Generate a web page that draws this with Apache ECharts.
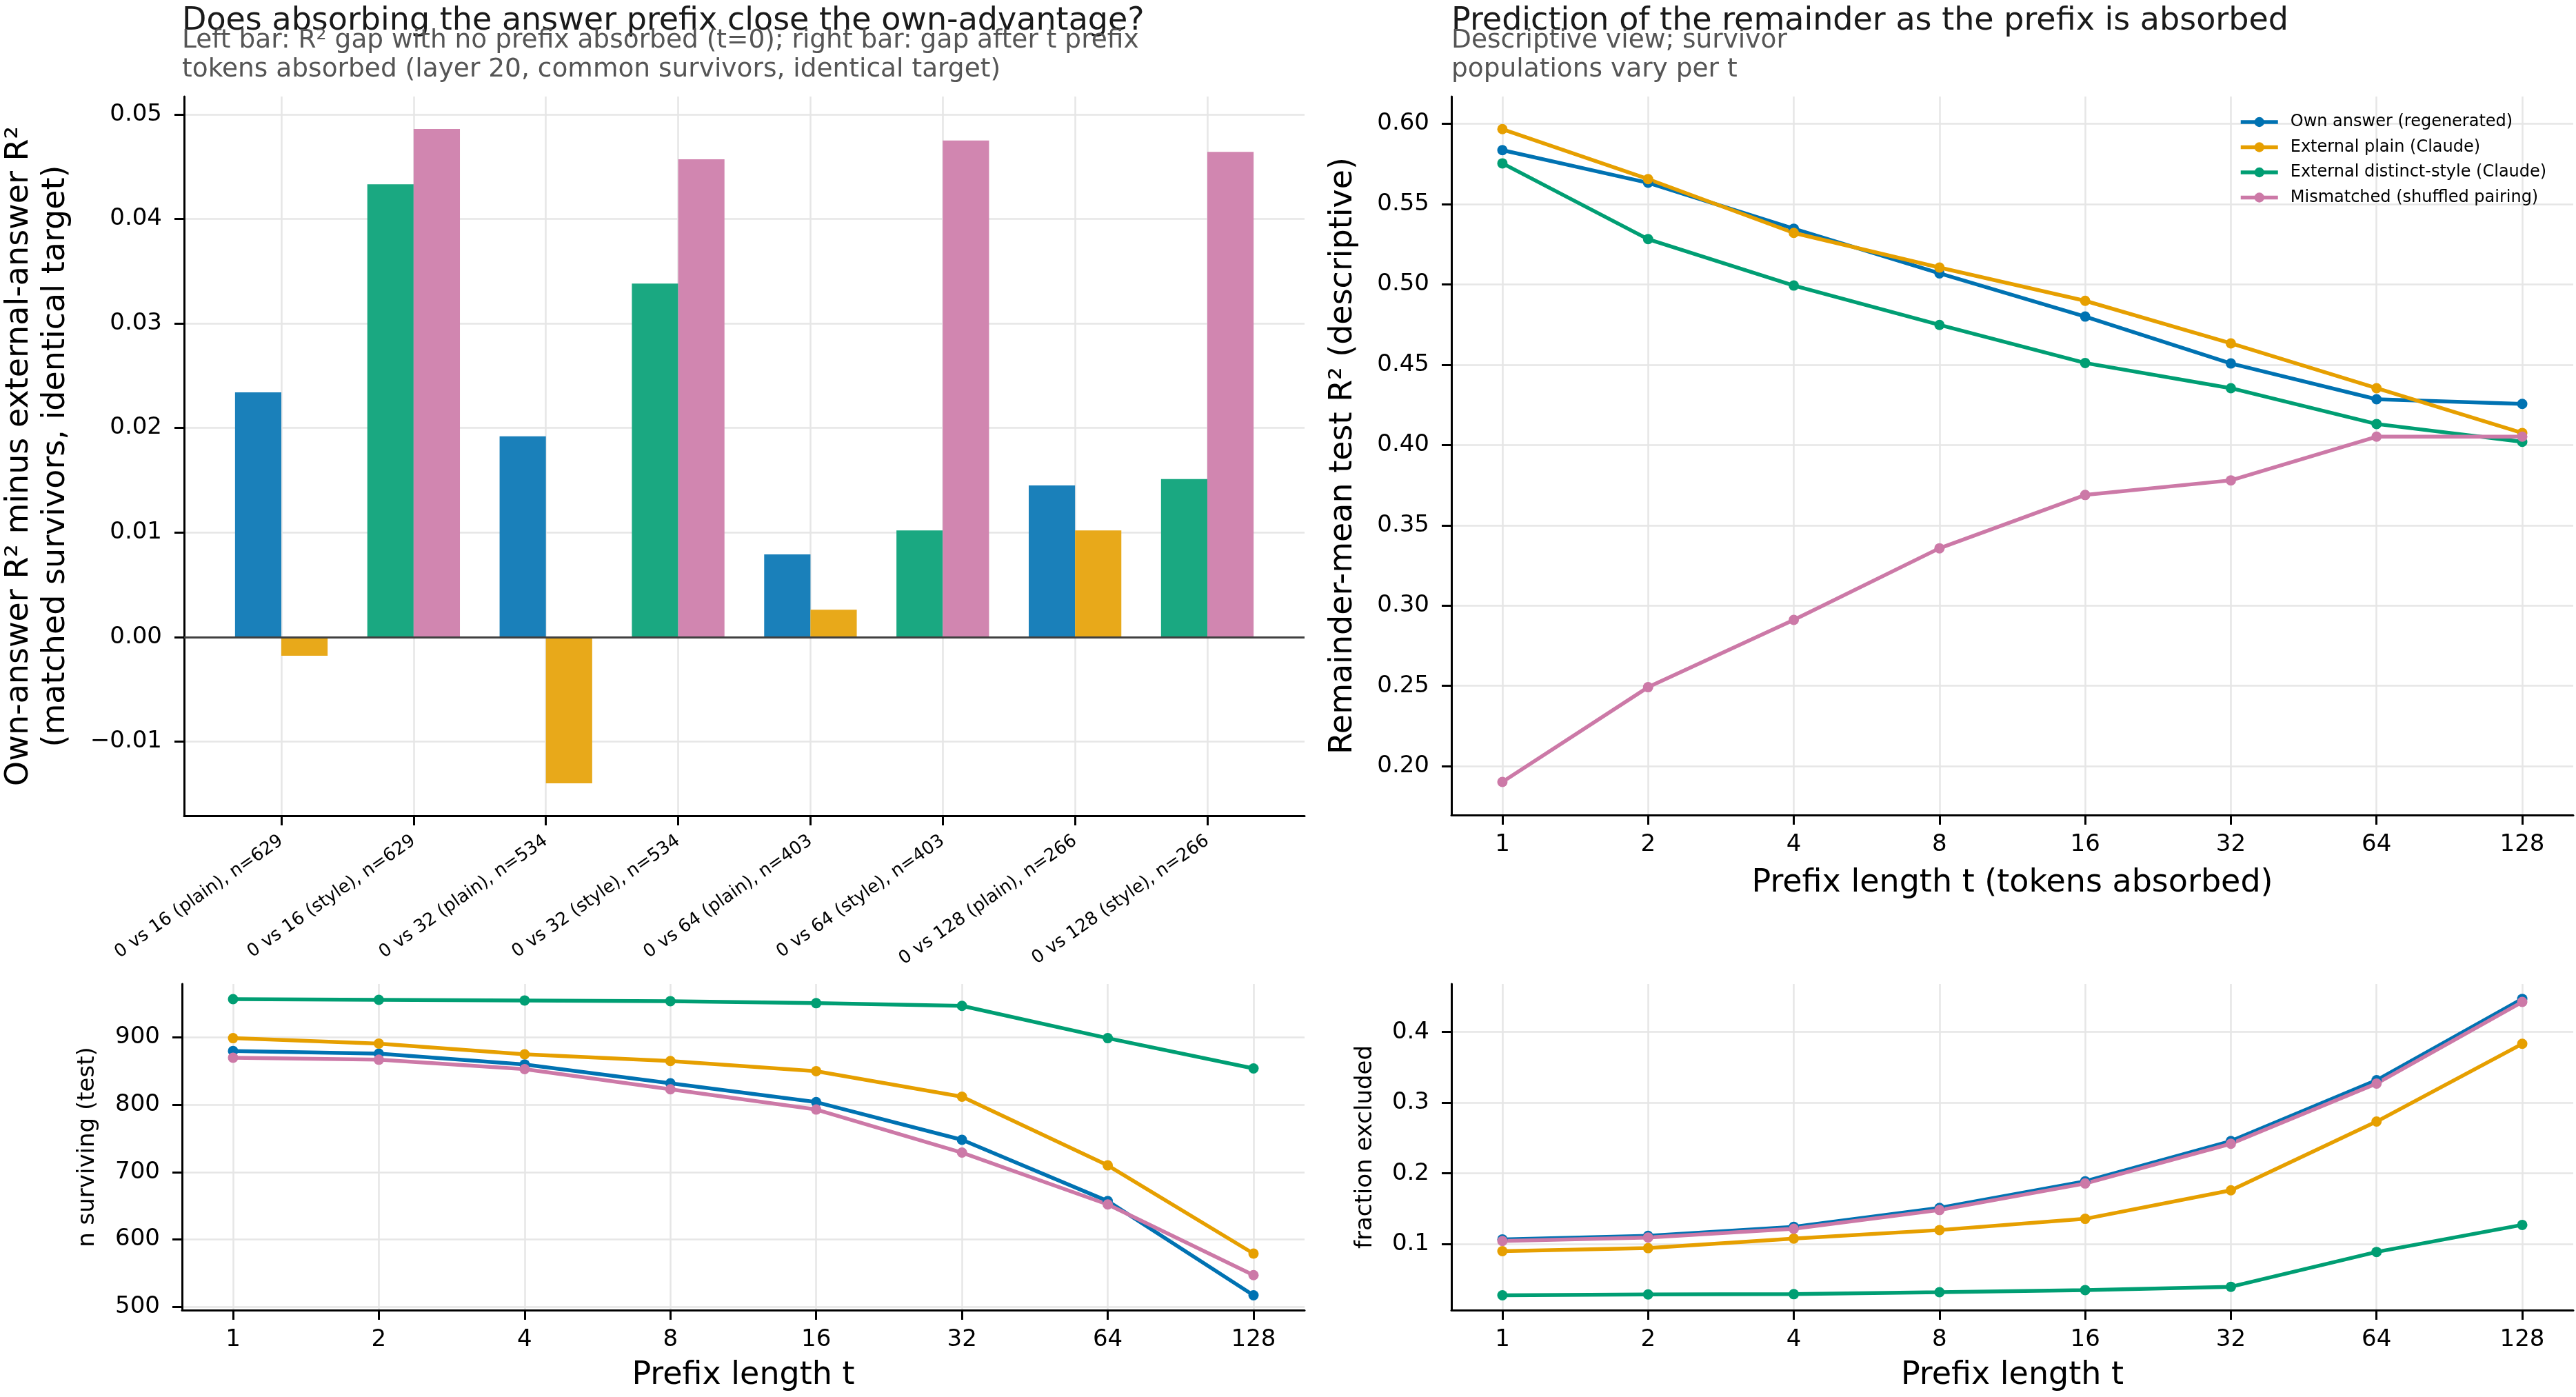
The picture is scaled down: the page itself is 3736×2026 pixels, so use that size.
<!DOCTYPE html>
<html><head><meta charset="utf-8">
<script src="https://cdn.jsdelivr.net/npm/echarts@6/dist/echarts.min.js"></script>
<style>html,body{margin:0;padding:0;background:#fff}#c{width:3736px;height:2026px}</style>
</head><body><div id="c"></div>
<script>
// ---------- data ----------
const barCategories = ['0 vs 16 (plain), n=629', '0 vs 16 (style), n=629', '0 vs 32 (plain), n=534', '0 vs 32 (style), n=534',
  '0 vs 64 (plain), n=403', '0 vs 64 (style), n=403', '0 vs 128 (plain), n=266', '0 vs 128 (style), n=266'];
const barKinds = ['plain', 'style', 'plain', 'style', 'plain', 'style', 'plain', 'style'];
const gapNoPrefix = [0.0234, 0.0433, 0.0192, 0.0338, 0.0079, 0.0102, 0.0145, 0.0151];
const gapAfterPrefix = [-0.0018, 0.0486, -0.0140, 0.0457, 0.0026, 0.0475, 0.0102, 0.0464];
const barYTicks = [-0.01, 0, 0.01, 0.02, 0.03, 0.04, 0.05];

const prefixLengths = [1, 2, 4, 8, 16, 32, 64, 128];
const seriesNames = ['Own answer (regenerated)', 'External plain (Claude)', 'External distinct-style (Claude)', 'Mismatched (shuffled pairing)'];

const r2Own = [0.5836, 0.5633, 0.5347, 0.5069, 0.4800, 0.4508, 0.4285, 0.4256];
const r2Plain = [0.5967, 0.5656, 0.5321, 0.5105, 0.4898, 0.4633, 0.4354, 0.4075];
const r2Style = [0.5754, 0.5282, 0.4993, 0.4748, 0.4511, 0.4354, 0.4131, 0.4020];
const r2Mismatch = [0.1902, 0.2492, 0.2911, 0.3357, 0.3689, 0.3780, 0.4052, 0.4052];
const r2YTicks = [0.20, 0.25, 0.30, 0.35, 0.40, 0.45, 0.50, 0.55, 0.60];

const nOwn = [880, 876, 860, 832, 804, 748, 657, 517];
const nPlain = [899, 891, 875, 865, 850, 812, 710, 579];
const nStyle = [957, 956, 955, 954, 951, 947, 899, 854];
const nMismatch = [870, 867, 853, 823, 793, 729, 652, 547];
const nYTicks = [500, 600, 700, 800, 900];

const fracOwn = [0.1066, 0.1116, 0.1244, 0.1512, 0.1888, 0.2457, 0.3318, 0.4469];
const fracPlain = [0.0899, 0.0942, 0.1078, 0.1198, 0.1357, 0.1760, 0.2733, 0.3833];
const fracStyle = [0.0275, 0.0287, 0.0291, 0.0318, 0.0349, 0.0395, 0.0888, 0.1271];
const fracMismatch = [0.1043, 0.1093, 0.1217, 0.1481, 0.1857, 0.2419, 0.3271, 0.4426];
const fracYTicks = [0.1, 0.2, 0.3, 0.4];

const titleLeft = 'Does absorbing the answer prefix close the own-advantage?';
const subtitleLeft = 'Left bar: R\u00b2 gap with no prefix absorbed (t=0); right bar: gap after t prefix\ntokens absorbed (layer 20, common survivors, identical target)';
const titleRight = 'Prediction of the remainder as the prefix is absorbed';
const subtitleRight = 'Descriptive view; survivor\npopulations vary per t';

// ---------- styles ----------
const FONT = 'DejaVu Sans';
const LINE_COLORS = ['#0072B2', '#E69F00', '#009E73', '#CC79A7'];
const BAR_COLORS = { plain: ['#1a80ba', '#e8a91a'], style: ['#1aa881', '#d186b0'] };
const BAR_W = 0.35;
const GRID_COLOR = '#e6e6e6';

const chart = echarts.init(document.getElementById('c'), null, { renderer: 'canvas' });

function xAxisBase(grid, min, max, ticks, fmt, extra) {
  return Object.assign({
    type: 'value', gridIndex: grid, min: min, max: max,
    axisLine: { show: true, onZero: false, lineStyle: { color: '#000', width: 3 } },
    axisTick: { show: true, length: 14, customValues: ticks, lineStyle: { color: '#000', width: 3 } },
    axisLabel: { show: true, customValues: ticks, formatter: fmt, fontFamily: FONT, fontSize: 34, color: '#000', margin: 26 },
    splitLine: { show: true, lineStyle: { color: GRID_COLOR, width: 2.5 } }
  }, extra || {});
}
function yAxisBase(grid, min, max, ticks, fmt, name, nameGap, nameSize, lineHeight) {
  return {
    type: 'value', gridIndex: grid, min: min, max: max,
    name: name, nameLocation: 'middle', nameGap: nameGap, nameRotate: 90,
    nameTextStyle: { fontFamily: FONT, fontSize: nameSize, color: '#000', lineHeight: lineHeight, align: 'center' },
    axisLine: { show: true, onZero: false, lineStyle: { color: '#000', width: 3 } },
    axisTick: { show: true, length: 14, customValues: ticks, lineStyle: { color: '#000', width: 3 } },
    axisLabel: { show: true, customValues: ticks, formatter: fmt, fontFamily: FONT, fontSize: 34, color: '#000', margin: 32 },
    splitLine: { show: true, lineStyle: { color: GRID_COLOR, width: 2.5 } }
  };
}
const idx = prefixLengths.map((_, i) => i);
const tFmt = v => String(prefixLengths[Math.round(v)]);
const catFmt = v => barCategories[Math.round(v)];
const minusFmt = d => v => v.toFixed(d).replace('-', '\u2212');

function lineSeries(names, arrays, xi, yi) {
  return arrays.map((arr, k) => ({
    type: 'line', name: names[k], xAxisIndex: xi, yAxisIndex: yi,
    data: arr.map((v, i) => [i, v]),
    symbol: 'circle', symbolSize: 15,
    lineStyle: { width: 5.5, color: LINE_COLORS[k] },
    itemStyle: { color: LINE_COLORS[k] },
    emphasis: { disabled: true }, z: 3
  }));
}

function barRender(side) {
  return function (params, api) {
    const i = api.value(0), v = api.value(1);
    const x0 = side === 0 ? i - BAR_W : i;
    const p0 = api.coord([x0, v]);
    const p1 = api.coord([x0 + BAR_W, 0]);
    const kind = barKinds[i];
    return {
      type: 'rect',
      shape: { x: p0[0], y: Math.min(p0[1], p1[1]), width: p1[0] - p0[0], height: Math.abs(p1[1] - p0[1]) },
      style: { fill: BAR_COLORS[kind][side] }
    };
  };
}

function textEl(text, x, y, size, color, lh) {
  return { type: 'text', x: x, y: y, silent: true, z: 10,
    style: { text: text, fontFamily: FONT, fontSize: size, fill: color, lineHeight: lh || size, verticalAlign: 'top', align: 'left' } };
}

const option = {
  animation: false,
  backgroundColor: '#fff',
  graphic: [
    textEl(titleLeft, 264, 6, 46, '#1a1a1a', 50),
    textEl(subtitleLeft, 264, 38, 37.5, '#555555', 42),
    textEl(titleRight, 2105, 6, 46, '#1a1a1a', 50),
    textEl(subtitleRight, 2105, 38, 37.5, '#555555', 42)
  ],
  legend: {
    data: seriesNames, orient: 'vertical', left: 3247, top: 165, padding: 0,
    itemWidth: 54, itemHeight: 18, itemGap: 12.5,
    lineStyle: { width: 5.5 },
    textStyle: { fontFamily: FONT, fontSize: 24, color: '#000', lineHeight: 24, padding: [0, 0, 0, 13] },
    selectedMode: false
  },
  grid: [
    { left: 264, top: 140, width: 1628, height: 1043 },
    { left: 2105, top: 140, width: 1627, height: 1042 },
    { left: 264, top: 1427, width: 1628, height: 473 },
    { left: 2105, top: 1427, width: 1627, height: 473 }
  ],
  xAxis: [
    xAxisBase(0, -0.735, 7.735, idx, catFmt, {
      axisLabel: { show: true, customValues: idx, formatter: catFmt, fontFamily: FONT, fontSize: 26, color: '#000', margin: 34, rotate: 35 }
    }),
    xAxisBase(1, -0.35, 7.35, idx, tFmt, {
      name: 'Prefix length t (tokens absorbed)', nameLocation: 'middle', nameGap: 76,
      nameTextStyle: { fontFamily: FONT, fontSize: 46, color: '#000' }
    }),
    xAxisBase(2, -0.35, 7.35, idx, tFmt, {
      name: 'Prefix length t', nameLocation: 'middle', nameGap: 72,
      nameTextStyle: { fontFamily: FONT, fontSize: 46, color: '#000' }
    }),
    xAxisBase(3, -0.35, 7.35, idx, tFmt, {
      name: 'Prefix length t', nameLocation: 'middle', nameGap: 72,
      nameTextStyle: { fontFamily: FONT, fontSize: 46, color: '#000' }
    })
  ],
  yAxis: [
    yAxisBase(0, -0.0171, 0.0517, barYTicks, minusFmt(2),
      'Own-answer R\u00b2 minus external-answer R\u00b2\n(matched survivors, identical target)', 159, 46, 53.5),
    yAxisBase(1, 0.1696, 0.617, r2YTicks, minusFmt(2), 'Remainder-mean test R\u00b2 (descriptive)', 134, 46, 46),
    yAxisBase(2, 495, 979.5, nYTicks, v => String(Math.round(v)), 'n surviving (test)', 120, 34, 34),
    yAxisBase(3, 0.0065, 0.468, fracYTicks, minusFmt(1), 'fraction excluded', 108, 34, 34)
  ],
  series: [
    { type: 'custom', name: 'gap t=0', xAxisIndex: 0, yAxisIndex: 0, renderItem: barRender(0),
      data: gapNoPrefix.map((v, i) => [i, v]), z: 2,
      markLine: { silent: true, symbol: 'none', label: { show: false },
        lineStyle: { color: '#404040', width: 3, type: 'solid' }, data: [{ yAxis: 0 }] } },
    { type: 'custom', name: 'gap after t', xAxisIndex: 0, yAxisIndex: 0, renderItem: barRender(1),
      data: gapAfterPrefix.map((v, i) => [i, v]), z: 2 }
  ]
    .concat(lineSeries(seriesNames, [r2Own, r2Plain, r2Style, r2Mismatch], 1, 1))
    .concat(lineSeries(seriesNames, [nOwn, nPlain, nStyle, nMismatch], 2, 2))
    .concat(lineSeries(seriesNames, [fracOwn, fracPlain, fracStyle, fracMismatch], 3, 3))
};
chart.setOption(option);
</script>
</body></html>
